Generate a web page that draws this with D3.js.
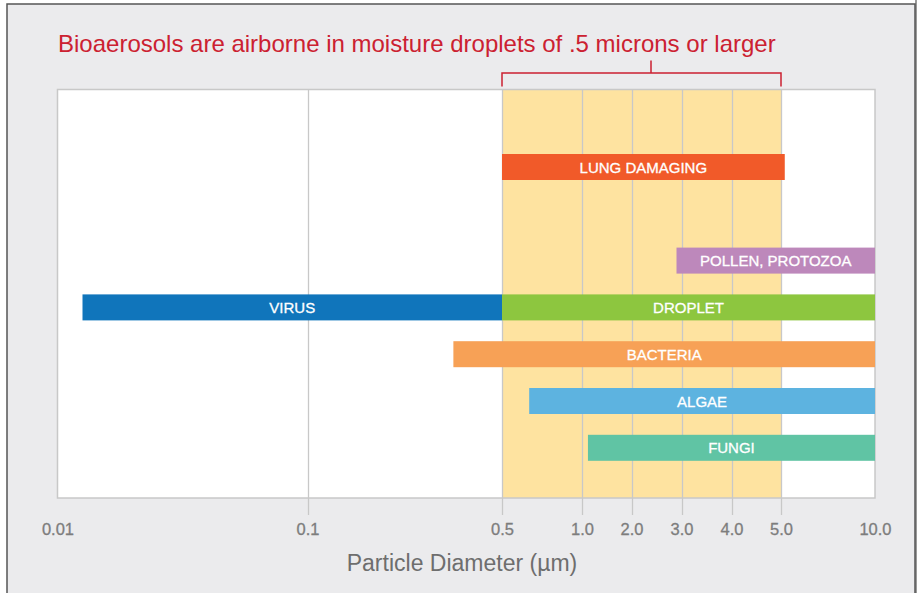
<!DOCTYPE html>
<html><head><meta charset="utf-8">
<script src="https://cdn.jsdelivr.net/npm/d3@7"></script>
<style>
html,body{margin:0;padding:0;background:#fff;}
svg{display:block;font-family:"Liberation Sans",Arial,Helvetica,sans-serif;}
</style></head>
<body><svg id="c" width="917" height="593"></svg>
<script>
// ---- data ----
const categories = ["LUNG DAMAGING","POLLEN, PROTOZOA","VIRUS","DROPLET","BACTERIA","ALGAE","FUNGI"];
const rowIndex   = [1, 3, 4, 4, 5, 6, 7];
const startVals  = [0.5, 2.9, 0.019, 0.5, 0.4, 0.67, 1.12];
const endVals    = [5.2, 10, 0.5, 10, 10, 10, 10];
const barColors  = ["#f15a29","#bd88bb","#1075bb","#8dc63f","#f7a156","#5db3e0","#60c4a4"];
const tickValues = [0.01, 0.1, 0.5, 1, 2, 3, 4, 5, 10];
const tickLabels = ["0.01","0.1","0.5","1.0","2.0","3.0","4.0","5.0","10.0"];
const bandRange  = [0.5, 5];
const titleText  = "Bioaerosols are airborne in moisture droplets of .5 microns or larger";
const axisTitle  = "Particle Diameter (\u00b5m)";

// ---- layout ----
const W = 917, H = 593;
const plot = {x0: 57.5, x1: 875, y0: 89.5, y1: 498};
// relative spacing of the (non-uniform) axis stops
const stopFrac = [0, 250, 444.5, 524.5, 574, 624, 674, 723.5, 817.5].map(v => v / 817.5);

const svg = d3.select("#c");
svg.append("rect").attr("x",0).attr("y",0).attr("width",W).attr("height",H).attr("fill","#fff");
svg.append("rect").attr("x",915).attr("y",0).attr("width",2).attr("height",H).attr("fill","#9a9a9a");
svg.append("rect").attr("x",7).attr("y",4).attr("width",908).attr("height",H).attr("fill","#ebebed")
   .attr("stroke","#555").attr("stroke-width",1.5);

const x = d3.scaleLinear()
  .domain(tickValues)
  .range(stopFrac.map(f => plot.x0 + f * (plot.x1 - plot.x0)));

const y = d3.scaleLinear().domain([0, 7]).range([120.2, 120.2 + 7*46.8]);

// plot background
svg.append("rect").attr("x",plot.x0).attr("y",plot.y0)
  .attr("width",plot.x1-plot.x0).attr("height",plot.y1-plot.y0).attr("fill","#fff");

// highlight band
svg.append("rect").attr("x",x(bandRange[0])).attr("y",plot.y0)
  .attr("width",x(bandRange[1])-x(bandRange[0])).attr("height",plot.y1-plot.y0)
  .attr("fill","#fee3a0");

// grid lines + ticks
const inner = tickValues.slice(1, -1);
svg.append("g").selectAll("line").data(inner).join("line")
  .attr("x1", d => Math.round(x(d)) + 0.5).attr("x2", d => Math.round(x(d)) + 0.5)
  .attr("y1", plot.y0).attr("y2", 515)
  .attr("stroke","#c8c8c8").attr("stroke-width",1.3);

// plot border
svg.append("rect").attr("x",plot.x0).attr("y",plot.y0)
  .attr("width",plot.x1-plot.x0).attr("height",plot.y1-plot.y0)
  .attr("fill","none").attr("stroke","#c8c8c8").attr("stroke-width",1.5);

// bars
const bars = categories.map((c,i) => ({c, r: rowIndex[i], s: startVals[i], e: endVals[i], col: barColors[i]}));
const bh = 26;
const g = svg.append("g");
g.selectAll("rect").data(bars).join("rect")
  .attr("x", d => x(d.s)).attr("width", d => x(d.e) - x(d.s))
  .attr("y", d => y(d.r) - bh/2).attr("height", bh)
  .attr("fill", d => d.col);
g.selectAll("text").data(bars).join("text")
  .attr("x", d => (x(d.s) + x(d.e)) / 2).attr("y", d => y(d.r) + 5.5)
  .attr("text-anchor","middle").attr("fill","#fff")
  .attr("stroke","#fff").attr("stroke-width",0.3)
  .attr("font-size", 15)
  .text(d => d.c);

// x axis labels
const axis = d3.axisBottom(x).tickValues(tickValues)
  .tickFormat((d,i) => tickLabels[i]).tickSize(0).tickPadding(0);
const ag = svg.append("g").attr("transform", `translate(0,${535})`).call(axis);
ag.select(".domain").remove();
ag.selectAll("text").attr("font-size",16.5).attr("fill","#7d7d7d")
  .attr("stroke","#7d7d7d").attr("stroke-width",0.3)
  .attr("font-family","'Liberation Sans',Arial,sans-serif").attr("dy",0).attr("y",0);

// axis title
svg.append("text").attr("x", 462).attr("y", 571)
  .attr("text-anchor","middle").attr("font-size",23).attr("fill","#6e6e6e").text(axisTitle);

// title
const red = "#cc2131";
svg.append("text").attr("x", 58).attr("y", 52).attr("font-size", 24)
  .attr("fill", red).text(titleText);

// bracket
const bx0 = x(bandRange[0]), bx1 = x(bandRange[1]), bmid = (bx0 + bx1)/2 + 9.5;
svg.append("path")
  .attr("d", `M${bx0},86.5 V73 H${bx1} V86.5 M${bmid},73 V60.5`)
  .attr("fill","none").attr("stroke", red).attr("stroke-width",1.5);
</script></body></html>
